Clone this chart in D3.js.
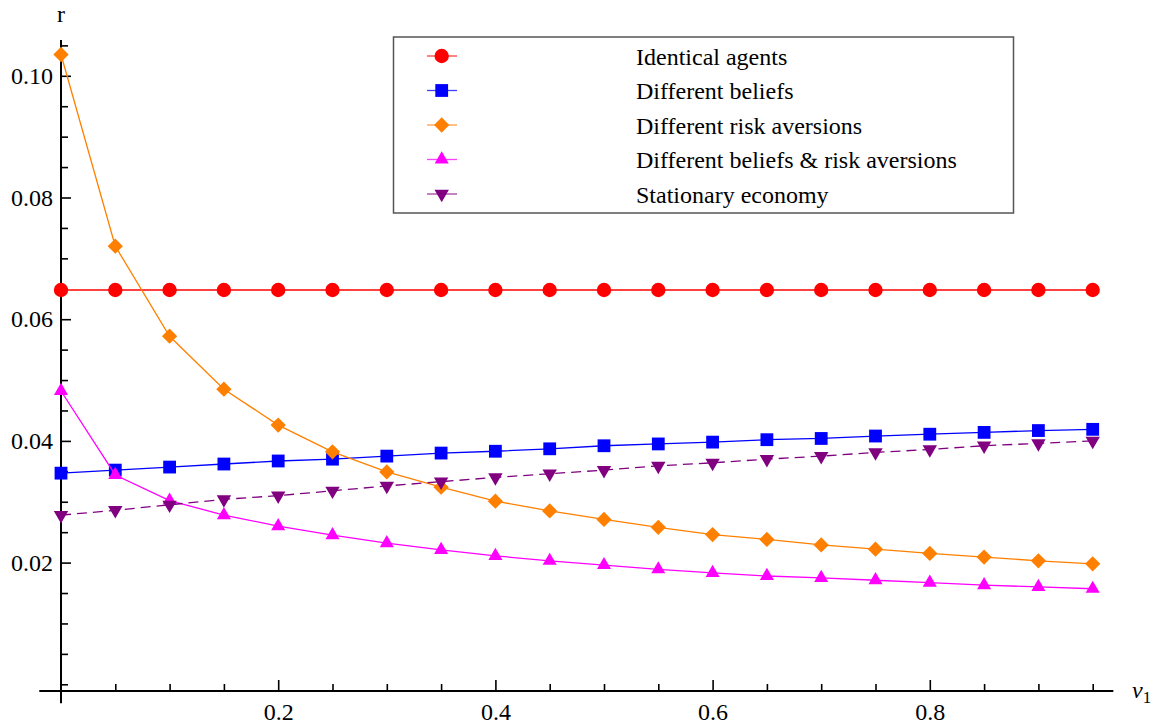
<!DOCTYPE html>
<html>
<head>
<meta charset="utf-8">
<script src="https://cdn.jsdelivr.net/npm/d3@7/dist/d3.min.js"></script>
<style>
  html, body { margin: 0; padding: 0; background: #fff; }
  svg { display: block; }
  svg text { font-family: "Liberation Serif", Tinos, "Times New Roman", Times, "DejaVu Serif", serif; fill: #000; }
</style>
</head>
<body>
<svg id="chart" width="1161" height="725"></svg>
<script>
// ---- data ----
const nu1 = [0, 0.05, 0.10, 0.15, 0.20, 0.25, 0.30, 0.35, 0.40, 0.45, 0.50, 0.55, 0.60, 0.65, 0.70, 0.75, 0.80, 0.85, 0.90, 0.95];
const identicalAgents = [0.0648, 0.0648, 0.0648, 0.0648, 0.0648, 0.0648, 0.0648, 0.0648, 0.0648, 0.0648, 0.0648, 0.0648, 0.0648, 0.0648, 0.0648, 0.0648, 0.0648, 0.0648, 0.0648, 0.0648];
const differentBeliefs = [0.0347, 0.0352, 0.0357, 0.0362, 0.0367, 0.0370, 0.0375, 0.0380, 0.0383, 0.0387, 0.0392, 0.0395, 0.0398, 0.0402, 0.0404, 0.0408, 0.0411, 0.0414, 0.0417, 0.0419];
const differentRiskAversions = [0.1035, 0.0720, 0.0572, 0.0485, 0.0426, 0.0382, 0.0349, 0.0324, 0.0301, 0.0285, 0.0271, 0.0258, 0.0246, 0.0238, 0.0229, 0.0222, 0.0215, 0.0209, 0.0203, 0.0198];
const differentBoth = [0.0482, 0.0344, 0.0302, 0.0278, 0.0260, 0.0245, 0.0232, 0.0221, 0.0211, 0.0203, 0.0196, 0.0189, 0.0183, 0.0178, 0.0175, 0.0171, 0.0167, 0.0163, 0.0160, 0.0157];
const stationaryEconomy = [0.0278, 0.0286, 0.0295, 0.0304, 0.0310, 0.0318, 0.0326, 0.0333, 0.0340, 0.0346, 0.0352, 0.0359, 0.0364, 0.0370, 0.0375, 0.0381, 0.0386, 0.0392, 0.0396, 0.0400];

const seriesNames = ["Identical agents", "Different beliefs", "Different risk aversions", "Different beliefs & risk aversions", "Stationary economy"];
const xMajorTicks = [0.2, 0.4, 0.6, 0.8];
const xMinorTicks = [0.05, 0.1, 0.15, 0.25, 0.3, 0.35, 0.45, 0.5, 0.55, 0.65, 0.7, 0.75, 0.85, 0.9, 0.95];
const yMajorTicks = [0.02, 0.04, 0.06, 0.08, 0.10];
const yMinorTicks = [0, 0.005, 0.01, 0.015, 0.025, 0.03, 0.035, 0.045, 0.05, 0.055, 0.065, 0.07, 0.075, 0.085, 0.09, 0.095, 0.105];
const xAxisLabel = "ν";
const xAxisSub = "1";
const yAxisLabel = "r";

// ---- styles ----
const FONT = '"Liberation Serif", Tinos, "Times New Roman", Times, "DejaVu Serif", serif';
const styles = [
  { color: "#ff0000", shape: "circle", dash: null },
  { color: "#0000ff", shape: "square", dash: null },
  { color: "#ff8000", shape: "diamond", dash: null },
  { color: "#ff00ff", shape: "triangleUp", dash: null },
  { color: "#800080", shape: "triangleDown", dash: "10,6" }
];
const allSeries = [identicalAgents, differentBeliefs, differentRiskAversions, differentBoth, stationaryEconomy];

const svg = d3.select("#chart");
const x = d3.scaleLinear().domain([0, 1]).range([61, 1147]);
const y = d3.scaleLinear().domain([0, 0.1]).range([684.3, 75.8]);

const xRange = [-0.02, 0.969];
const yRange = [-0.0031, 0.1059];
const xAxisAt = -0.0011;

function symbolPath(shape) {
  switch (shape) {
    case "circle": return d3.symbol(d3.symbolCircle, Math.PI * 7.2 * 7.2)();
    case "square": return d3.symbol(d3.symbolSquare, 12.8 * 12.8)();
    case "diamond": return d3.symbol(d3.symbolSquare, 10.8 * 10.8)();
    case "triangleUp": return d3.symbol(d3.symbolTriangle, 86)();
    case "triangleDown": return d3.symbol(d3.symbolTriangle, 90)();
  }
}
function symbolRot(shape) {
  if (shape === "diamond") return 45;
  if (shape === "triangleDown") return 180;
  return 0;
}

// ---- axes ----
const axisG = svg.append("g");
const xAxisY = y(xAxisAt);
const gxMinor = axisG.append("g").attr("transform", `translate(0,${xAxisY})`)
  .call(d3.axisBottom(x).tickValues(xMinorTicks).tickSize(-7).tickFormat(""));
const gxMajor = axisG.append("g").attr("transform", `translate(0,${xAxisY})`)
  .call(d3.axisBottom(x).tickValues(xMajorTicks).tickSize(-11).tickPadding(11.5).tickFormat(d3.format(".1f")));
[gxMinor, gxMajor].forEach(g => {
  g.attr("font-family", FONT);
  g.select(".domain").remove();
  g.selectAll(".tick line").attr("stroke", "#000").attr("stroke-width", 1.6);
  g.selectAll("text").attr("font-size", 24).attr("font-family", FONT).attr("fill", "#000");
});
axisG.append("line")
  .attr("x1", x(xRange[0])).attr("x2", x(xRange[1]))
  .attr("y1", xAxisY).attr("y2", xAxisY)
  .attr("stroke", "#000").attr("stroke-width", 2);

const yAxisX = x(0);
const gyMinor = axisG.append("g").attr("transform", `translate(${yAxisX},0)`)
  .call(d3.axisLeft(y).tickValues(yMinorTicks).tickSize(-7).tickFormat(""));
const gyMajor = axisG.append("g").attr("transform", `translate(${yAxisX},0)`)
  .call(d3.axisLeft(y).tickValues(yMajorTicks).tickSize(-10).tickPadding(8).tickFormat(d3.format(".2f")));
[gyMinor, gyMajor].forEach(g => {
  g.attr("font-family", FONT);
  g.select(".domain").remove();
  g.selectAll(".tick line").attr("stroke", "#000").attr("stroke-width", 1.6);
  g.selectAll("text").attr("font-size", 24).attr("font-family", FONT).attr("fill", "#000");
});
axisG.append("line")
  .attr("x1", yAxisX).attr("x2", yAxisX)
  .attr("y1", y(yRange[0])).attr("y2", y(yRange[1]))
  .attr("stroke", "#000").attr("stroke-width", 2);

// axis labels
svg.append("text").attr("x", yAxisX).attr("y", 22)
  .attr("text-anchor", "middle").attr("font-size", 24).attr("font-family", FONT).text(yAxisLabel);
const xl = svg.append("text").attr("x", 1132).attr("y", 698).attr("font-size", 24).attr("font-family", FONT);
xl.append("tspan").attr("font-style", "italic").text(xAxisLabel);
xl.append("tspan").attr("font-size", 17).attr("dy", 5).text(xAxisSub);

// ---- series ----
const line = d3.line().x((d, i) => x(nu1[i])).y(d => y(d));
allSeries.forEach((vals, si) => {
  const st = styles[si];
  const g = svg.append("g");
  g.append("path").datum(vals)
    .attr("d", line)
    .attr("fill", "none")
    .attr("stroke", st.color)
    .attr("stroke-width", 1.3)
    .attr("stroke-dasharray", st.dash);
  g.selectAll("path.mk").data(vals).join("path")
    .attr("class", "mk")
    .attr("d", symbolPath(st.shape))
    .attr("transform", (d, i) => `translate(${x(nu1[i])},${y(d)}) rotate(${symbolRot(st.shape)})`)
    .attr("fill", st.color);
});

// ---- legend ----
const leg = svg.append("g");
leg.append("rect")
  .attr("x", 393.5).attr("y", 37).attr("width", 620).attr("height", 176)
  .attr("fill", "#fff").attr("stroke", "#555").attr("stroke-width", 1.5);
seriesNames.forEach((name, i) => {
  const st = styles[i];
  const cy = 56 + i * 34.5;
  leg.append("line")
    .attr("x1", 427).attr("x2", 457).attr("y1", cy).attr("y2", cy)
    .attr("stroke", st.color).attr("stroke-width", 1.3).attr("stroke-opacity", 0.75);
  leg.append("path")
    .attr("d", symbolPath(st.shape))
    .attr("transform", `translate(441.7,${cy}) rotate(${symbolRot(st.shape)})`)
    .attr("fill", st.color);
  leg.append("text")
    .attr("x", 636).attr("y", cy + 8.7)
    .attr("font-size", 24).attr("font-family", FONT)
    .text(name);
});
</script>
</body>
</html>
